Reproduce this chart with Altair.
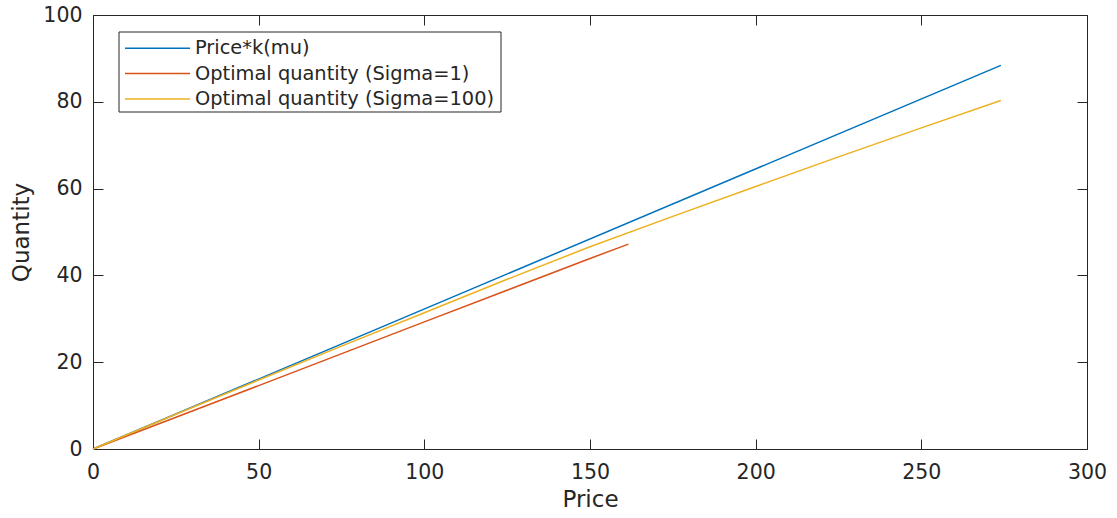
import altair as alt
import pandas as pd

# Series names
s_blue = "Price*k(mu)"
s_red = "Optimal quantity (Sigma=1)"
s_yellow = "Optimal quantity (Sigma=100)"
series_names = [s_blue, s_red, s_yellow]
series_colors = ["#0072BD", "#D95319", "#EDB120"]

# Price*k(mu)
blue_price = [0, 274]
blue_qty = [0, 88.4]

# Optimal quantity (Sigma=1)
red_price = [0, 50, 100, 150, 161.6]
red_qty = [0, 14.6, 29.3, 43.9, 47.2]

# Optimal quantity (Sigma=100)
yellow_price = [0, 25, 50, 75, 100, 125, 150, 175, 200, 225, 250, 274]
yellow_qty = [0, 8.0, 15.9, 23.7, 31.4, 39.1, 46.6, 53.6, 60.5, 67.3, 74.0, 80.3]

x_ticks = [0, 50, 100, 150, 200, 250, 300]
y_ticks = [0, 20, 40, 60, 80, 100]

rows = []
for name, xs, ys in [(s_blue, blue_price, blue_qty),
                     (s_red, red_price, red_qty),
                     (s_yellow, yellow_price, yellow_qty)]:
    for i, (xv, yv) in enumerate(zip(xs, ys)):
        rows.append({"series": name, "price": xv, "qty": yv, "order": i})
df = pd.DataFrame(rows)

INK = "#262626"
FONT = "DejaVu Sans"
TICK = 10

xscale = alt.Scale(domain=[0, 300], nice=False, zero=False)
yscale = alt.Scale(domain=[0, 100], nice=False, zero=False)
color_scale = alt.Scale(domain=series_names, range=series_colors)

lines = alt.Chart(df).mark_line(strokeWidth=1.5).encode(
    x=alt.X("price:Q", scale=xscale,
            axis=alt.Axis(values=x_ticks, title="Price", orient="bottom",
                          offset=-TICK, tickSize=TICK, domain=False, grid=False,
                          labelFlush=False, labelPadding=13, titlePadding=6)),
    y=alt.Y("qty:Q", scale=yscale,
            axis=alt.Axis(values=y_ticks, title="Quantity", orient="left",
                          offset=-TICK, tickSize=TICK, domain=False, grid=False,
                          labelFlush=False, labelPadding=11, titlePadding=9)),
    color=alt.Color("series:N", scale=color_scale, legend=None),
    order="order:Q",
)

mirror = alt.Chart(df).mark_line(opacity=0).encode(
    x=alt.X("price:Q", scale=xscale,
            axis=alt.Axis(values=x_ticks, title=None, orient="top", labels=False,
                          offset=-TICK, tickSize=TICK, domain=False, grid=False)),
    y=alt.Y("qty:Q", scale=yscale,
            axis=alt.Axis(values=y_ticks, title=None, orient="right", labels=False,
                          offset=-TICK, tickSize=TICK, domain=False, grid=False)),
    detail="series:N",
    order="order:Q",
)

# Legend box (drawn as marks; positions are layout in plot-area pixels)
leg_x0, leg_x1, leg_y0, leg_y1 = 26, 408, 17, 97
row_y0, row_step = 33.3, 25.3
sym_x0, sym_x1, text_x = 32, 97, 102

legend_layers = [
    alt.Chart(pd.DataFrame({"series": series_names[:1]})).mark_rect(
        fill="white", stroke=INK, strokeWidth=1
    ).encode(x=alt.value(leg_x0), x2=alt.value(leg_x1),
             y=alt.value(leg_y0), y2=alt.value(leg_y1))
]
for i, (name, col) in enumerate(zip(series_names, series_colors)):
    one = pd.DataFrame({"series": [name]})
    yy = row_y0 + row_step * i
    legend_layers.append(
        alt.Chart(one).mark_rule(color=col, strokeWidth=1.5).encode(
            x=alt.value(sym_x0), x2=alt.value(sym_x1), y=alt.value(yy))
    )
    legend_layers.append(
        alt.Chart(one).mark_text(align="left", baseline="middle", font=FONT,
                                 fontSize=19.4, color=INK).encode(
            text="series:N", x=alt.value(text_x), y=alt.value(yy))
    )

chart = alt.layer(lines, mirror, *legend_layers).resolve_axis(
    x="independent", y="independent"
).properties(
    width=994, height=434,
    autosize=alt.AutoSizeParams(type="none"),
    padding={"left": 93, "top": 15, "right": 30, "bottom": 69},
    background="white",
).configure_view(
    stroke=INK, strokeWidth=1
).configure_axis(
    labelFont=FONT, titleFont=FONT, labelFontSize=20.5, titleFontSize=23,
    labelColor=INK, titleColor=INK, tickColor=INK, tickWidth=1,
    titleFontWeight="normal"
)

chart.save("out.html", embed_options={"renderer": "svg", "actions": False})
